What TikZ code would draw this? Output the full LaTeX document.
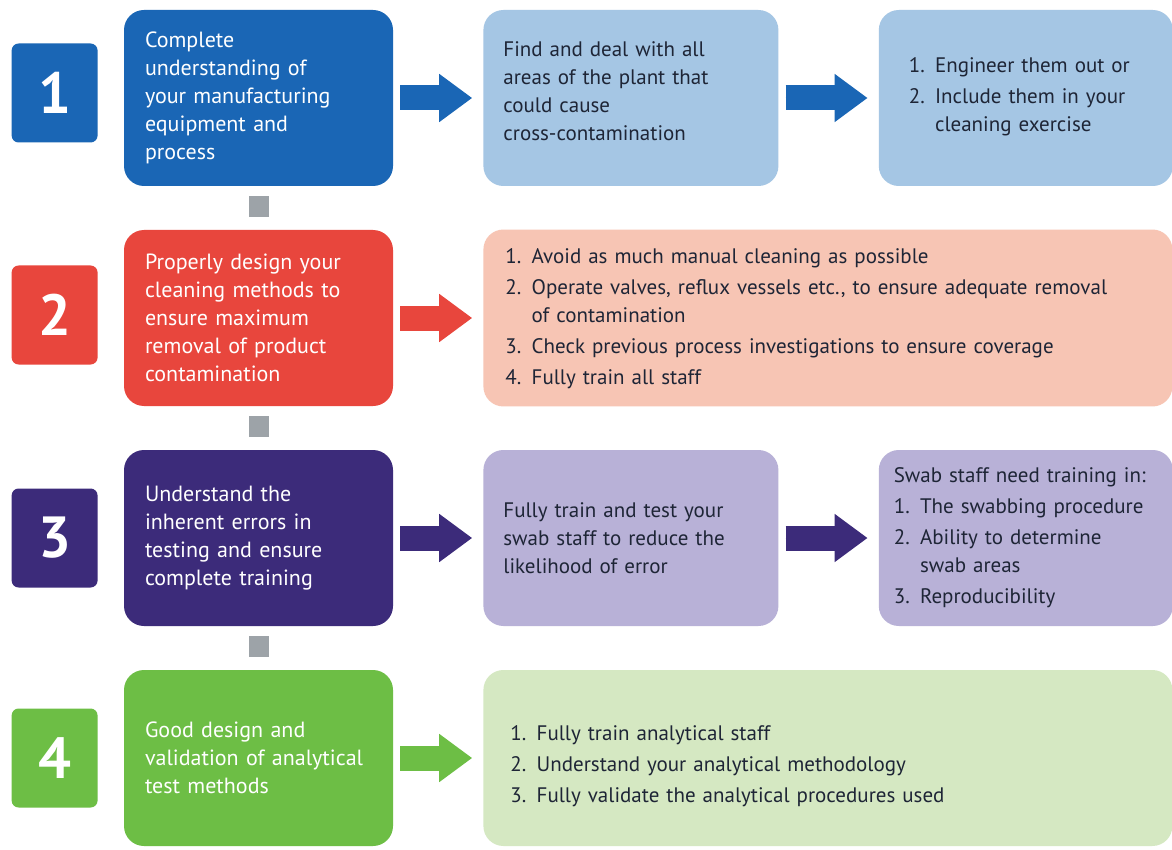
\documentclass[tikz,border=0pt]{standalone}
\usepackage{fontspec}
\setmainfont{PT Sans}
\usetikzlibrary{arrows.meta,positioning}

\definecolor{stepblue}{HTML}{1A66B5}
\definecolor{paleblue}{HTML}{A5C6E4}
\definecolor{stepred}{HTML}{E8463D}
\definecolor{palered}{HTML}{F7C5B4}
\definecolor{steppurple}{HTML}{3C2B7A}
\definecolor{palepurple}{HTML}{B8B1D7}
\definecolor{stepgreen}{HTML}{6DBE45}
\definecolor{palegreen}{HTML}{D5E8C2}
\definecolor{linkgrey}{HTML}{9DA3A8}
\definecolor{darktext}{HTML}{1E2536}

% numbered line with hanging indent (\break keeps the indent)
\newcommand{\entry}[2]{\par\hangindent=1.25em\hangafter=1\noindent\makebox[1.25em][l]{#1}#2}

\tikzset{
	numbox/.style={rounded corners=7pt, minimum width=86pt, minimum height=99pt,
		text=white, font=\fontsize{58}{58}\selectfont\bfseries},
	stepbox/.style={rounded corners=20pt, minimum width=269pt, minimum height=176pt,
		text width=227pt, inner xsep=0pt, align=left, text=white,
		font=\fontsize{22}{28}\selectfont},
	infobox/.style={rounded corners=20pt, minimum height=176pt, inner xsep=0pt,
		align=left, text=darktext,
		font=\fontsize{21}{28}\selectfont\setlength{\parskip}{3pt}},
	flow/.style={line width=25pt, -{Triangle[length=33pt,width=46pt]},
		shorten <=7pt, shorten >=11pt},
	link/.style={line width=20pt, draw=linkgrey, shorten <=10pt, shorten >=13pt},
}

\begin{document}
\begin{tikzpicture}[x=1pt, y=-1pt]
	\fill[white] (0,0) rectangle (1172,850);
	\useasboundingbox (0,0) rectangle (1172,850);

	% Draw the four steps
	\node[stepbox, fill=stepblue]   (s1) at (258.5,98)
		{Complete\\ understanding of\\ your manufacturing\\ equipment and\\ process};
	\node[stepbox, fill=stepred]    (s2) at (258.5,318)
		{Properly design your\\ cleaning methods to\\ ensure maximum\\ removal of product\\ contamination};
	\node[stepbox, fill=steppurple] (s3) at (258.5,538)
		{Understand the\\ inherent errors in\\ testing and ensure\\ complete training};
	\node[stepbox, fill=stepgreen]  (s4) at (258.5,758)
		{Good design and\\ validation of analytical\\ test methods};

	% Numbers on the left
	\node[numbox, fill=stepblue,   left=26pt of s1, yshift=5pt] (n1) {1};
	\node[numbox, fill=stepred,    left=26pt of s2, yshift=3pt] (n2) {2};
	\node[numbox, fill=steppurple, left=26pt of s3] (n3) {3};
	\node[numbox, fill=stepgreen,  left=26pt of s4] (n4) {4};

	% What to do for each step
	\node[infobox, fill=paleblue, minimum width=295pt, text width=255pt, right=90pt of s1] (b1)
		{Find and deal with all\\ areas of the plant that\\ could cause\\ cross-contamination\par\vspace{14pt}};
	\node[infobox, fill=paleblue, minimum width=294pt, text width=234pt, right=100pt of b1] (c1)
		{\entry{1.}{Engineer them out or}
		 \entry{2.}{Include them in your\break cleaning exercise}\par\vspace{18pt}};
	\node[infobox, fill=palered, minimum width=689pt, text width=645pt, right=90pt of s2] (b2)
		{\entry{1.}{Avoid as much manual cleaning as possible}
		 \entry{2.}{Operate valves, reflux vessels etc., to ensure adequate removal\break of contamination}
		 \entry{3.}{Check previous process investigations to ensure coverage}
		 \entry{4.}{Fully train all staff}\par\vspace{14pt}};
	\node[infobox, fill=palepurple, minimum width=295pt, text width=255pt, right=90pt of s3] (b3)
		{Fully train and test your\\ swab staff to reduce the\\ likelihood of error};
	\node[infobox, fill=palepurple, minimum width=294pt, text width=264pt, right=100pt of b3] (c3)
		{Swab staff need training in:
		 \entry{1.}{The swabbing procedure}
		 \entry{2.}{Ability to determine\break swab areas}
		 \entry{3.}{Reproducibility}};
	\node[infobox, fill=palegreen, minimum width=689pt, text width=635pt, right=90pt of s4] (b4)
		{\entry{1.}{Fully train analytical staff}
		 \entry{2.}{Understand your analytical methodology}
		 \entry{3.}{Fully validate the analytical procedures used}};

	% Grey links between the steps
	\draw[link] (s1) -- (s2);
	\draw[link] (s2) -- (s3);
	\draw[link] (s3) -- (s4);

	% Block arrows
	\draw[flow, draw=stepblue, fill=stepblue]     (s1) -- (b1);
	\draw[flow, draw=stepblue, fill=stepblue]     (b1) -- (c1);
	\draw[flow, draw=stepred, fill=stepred]       (s2) -- (b2);
	\draw[flow, draw=steppurple, fill=steppurple] (s3) -- (b3);
	\draw[flow, draw=steppurple, fill=steppurple] (b3) -- (c3);
	\draw[flow, draw=stepgreen, fill=stepgreen]   (s4) -- (b4);
\end{tikzpicture}
\end{document}
